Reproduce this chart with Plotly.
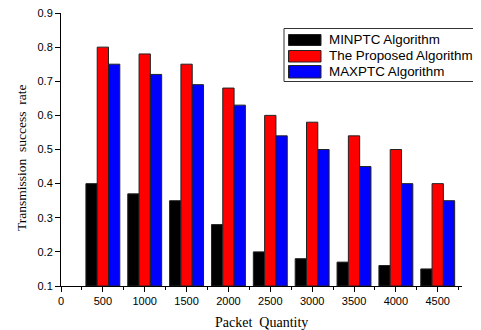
import plotly.graph_objects as go

packets = [500, 1000, 1500, 2000, 2500, 3000, 3500, 4000, 4500]
minptc = [0.40, 0.37, 0.35, 0.28, 0.20, 0.18, 0.17, 0.16, 0.15]
proposed = [0.80, 0.78, 0.75, 0.68, 0.60, 0.58, 0.54, 0.50, 0.40]
maxptc = [0.75, 0.72, 0.69, 0.63, 0.54, 0.50, 0.45, 0.40, 0.35]
names = ["MINPTC Algorithm", "The Proposed Algorithm", "MAXPTC Algorithm"]
colors = ["#000000", "#ff0000", "#0000ff"]

OFF = 8  # page body margin
W, H = 481 - OFF, 330 - OFF
ML, MR, MT, MB = 61 - OFF, 19, 13 - OFF, 44
PW, PH = W - ML - MR, H - MT - MB

def px(x):
    return (x - OFF - ML) / PW

def py(y):
    return 1 - (y - OFF - MT) / PH

fig = go.Figure()
for name, vals, col in zip(names, [minptc, proposed, maxptc], colors):
    fig.add_trace(go.Bar(x=packets, y=[v - 0.1 for v in vals], base=0.1, name=name,
                         marker=dict(color=col, line=dict(color="#222222", width=1))))

# custom legend (wide swatches like the reference)
shapes = [dict(type="rect", xref="paper", yref="paper", x0=px(284), x1=px(486),
               y0=py(81.5), y1=py(28.5), line=dict(color="#333333", width=1), fillcolor="white", layer="above")]
annotations = []
rows = [(34.5, 45.5), (50.5, 62), (65.5, 78)]
for (name, col, (t, b)) in zip(names, colors, rows):
    shapes.append(dict(type="rect", xref="paper", yref="paper", x0=px(288.5), x1=px(321),
                       y0=py(b), y1=py(t), line=dict(color="#222222", width=1),
                       fillcolor=col, layer="above"))
    annotations.append(dict(xref="paper", yref="paper", x=px(327), y=py((t + b) / 2 - 0.5), text=name,
                            showarrow=False, xanchor="left", yanchor="middle",
                            font=dict(family="Liberation Sans, Arial", size=13.4, color="black")))

serif = "Liberation Serif, Times New Roman"
annotations.append(dict(xref="paper", yref="paper", x=px(261.5), y=py(322), text="Packet  Quantity",
                        showarrow=False, xanchor="center", yanchor="middle",
                        font=dict(family=serif, size=14, color="black")))
annotations.append(dict(xref="paper", yref="paper", x=px(21), y=py(158), text="Transmission  success  rate",
                        showarrow=False, xanchor="center", yanchor="middle", textangle=-90,
                        font=dict(family=serif, size=13.5, color="black")))

fig.update_layout(
    width=W, height=H,
    margin=dict(l=ML, r=MR, t=MT, b=MB),
    paper_bgcolor="white", plot_bgcolor="white",
    barmode="group", bargap=0.19, bargroupgap=0,
    font=dict(family="Liberation Sans, Arial", size=11, color="black"),
    showlegend=False,
    shapes=shapes, annotations=annotations,
)
fig.update_xaxes(range=[0, 4790], tickvals=[0, 500, 1000, 1500, 2000, 2500, 3000, 3500, 4000, 4500],
                 showline=True, linecolor="black", linewidth=1, ticks="outside", ticklen=5,
                 tickcolor="black", showgrid=False, zeroline=False, automargin=False,
                 ticklabeloverflow="allow",
                 minor=dict(tickvals=[250, 750, 1250, 1750, 2250, 2750, 3250, 3750, 4250, 4750],
                            ticks="outside", ticklen=3, tickcolor="black"))
fig.update_yaxes(range=[0.1, 0.9], dtick=0.1, tickformat=".1f",
                 showline=True, linecolor="black", linewidth=1, ticks="outside", ticklen=5,
                 tickcolor="black", showgrid=False, zeroline=False, automargin=False,
                 ticklabeloverflow="allow")

fig.write_html("out.html")
